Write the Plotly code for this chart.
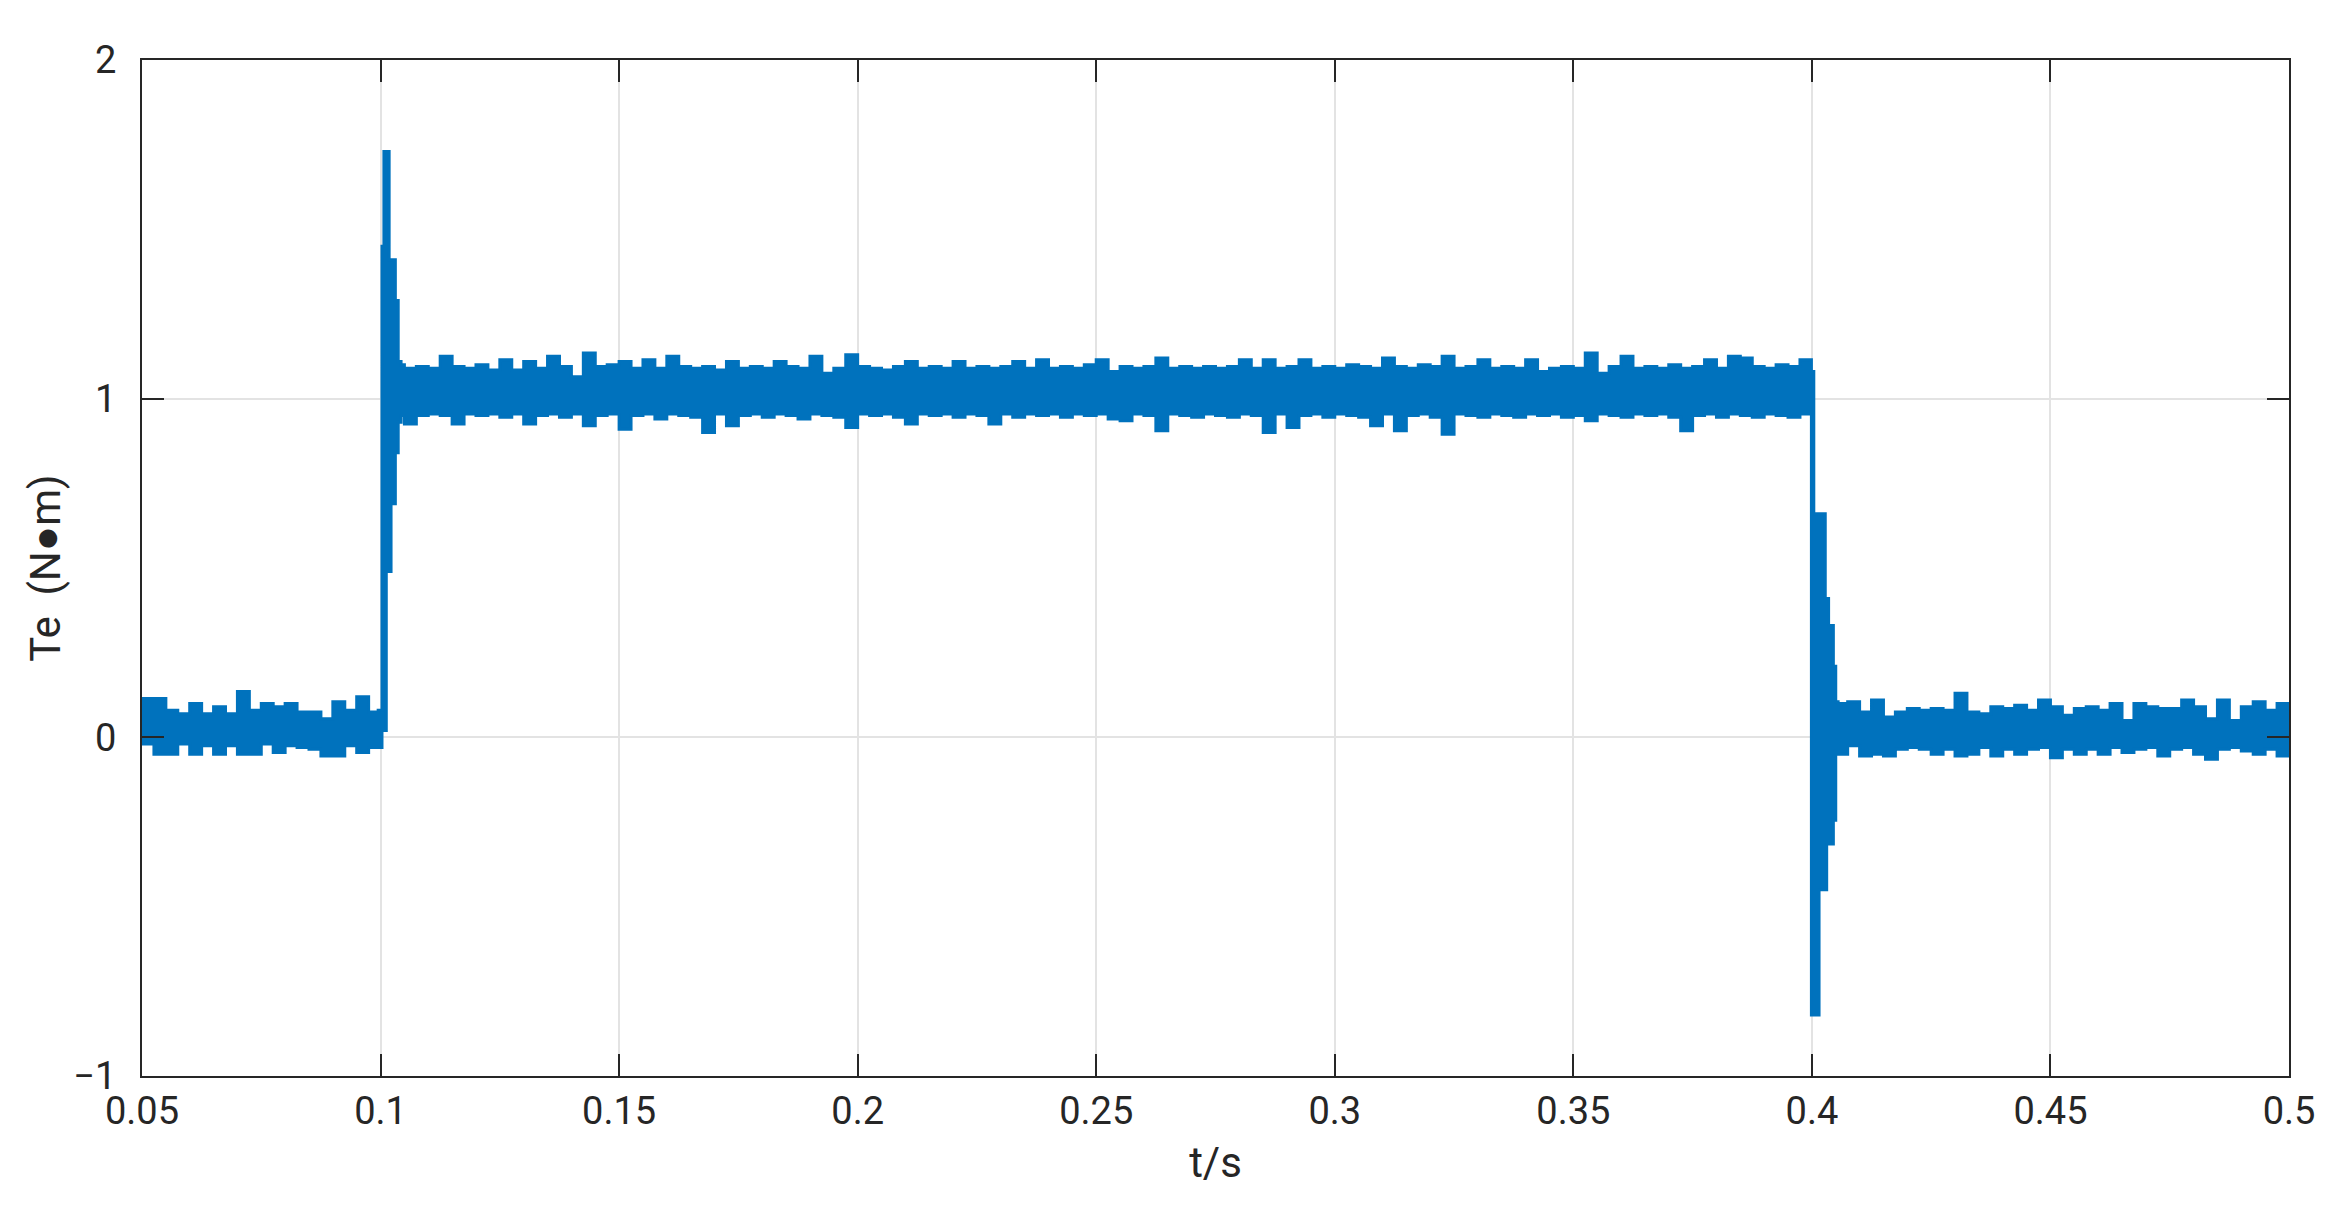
import numpy as np
import plotly.graph_objects as go

# sample times (s) of the read-off envelope, per segment
t_base1 = np.round(0.05 + 0.0025 * np.arange(20), 4)
t_rise = [0.0995, 0.1003, 0.1007, 0.1012, 0.1018, 0.1022, 0.1031, 0.1037, 0.1043]
t_plateau = np.round(0.105 + 0.0025 * np.arange(118), 4)
t_fall = [0.3999, 0.4004, 0.4015, 0.4028, 0.4031, 0.4035, 0.4045, 0.4050, 0.4055]
t_base2 = np.round(0.4075 + 0.0025 * np.arange(38), 4)

# upper / lower edge of the Te trace (N*m)
up_base1 = [0.115, 0.115, 0.08, 0.07, 0.10, 0.07, 0.09, 0.07, 0.135, 0.08,
            0.10, 0.09, 0.10, 0.075, 0.075, 0.055, 0.105, 0.08, 0.12, 0.075]
lo_base1 = [-0.02, -0.05, -0.05, -0.02, -0.05, -0.025, -0.05, -0.025, -0.05, -0.05,
            -0.02, -0.045, -0.025, -0.03, -0.035, -0.055, -0.055, -0.025, -0.045, -0.03]

up_rise = [0.08, 1.45, 1.73, 1.73, 1.41, 1.41, 1.29, 1.11, 1.10]
lo_rise = [-0.03, 0.02, 0.02, 0.49, 0.49, 0.69, 0.84, 0.93, 0.95]

up_plateau = [1.09, 1.095, 1.09, 1.125, 1.095, 1.09, 1.10, 1.085, 1.115, 1.085,
              1.11, 1.09, 1.125, 1.095, 1.065, 1.135, 1.095, 1.10, 1.11, 1.09,
              1.115, 1.09, 1.125, 1.095, 1.09, 1.095, 1.085, 1.11, 1.09, 1.095,
              1.09, 1.11, 1.095, 1.09, 1.125, 1.075, 1.09, 1.13, 1.095, 1.09,
              1.085, 1.095, 1.11, 1.09, 1.095, 1.09, 1.11, 1.09, 1.095, 1.09,
              1.095, 1.11, 1.09, 1.115, 1.09, 1.095, 1.09, 1.10, 1.115, 1.08,
              1.095, 1.09, 1.095, 1.12, 1.09, 1.095, 1.09, 1.095, 1.09, 1.095,
              1.115, 1.09, 1.115, 1.09, 1.095, 1.115, 1.09, 1.095, 1.09, 1.10,
              1.095, 1.09, 1.12, 1.095, 1.09, 1.10, 1.095, 1.125, 1.09, 1.095,
              1.115, 1.09, 1.095, 1.09, 1.115, 1.08, 1.09, 1.095, 1.09, 1.135,
              1.075, 1.095, 1.125, 1.09, 1.095, 1.09, 1.10, 1.09, 1.095, 1.115,
              1.09, 1.125, 1.12, 1.095, 1.09, 1.10, 1.095, 1.115]
lo_plateau = [0.925, 0.95, 0.955, 0.95, 0.925, 0.955, 0.95, 0.955, 0.945, 0.955,
              0.925, 0.95, 0.955, 0.945, 0.955, 0.92, 0.95, 0.955, 0.91, 0.95,
              0.955, 0.94, 0.955, 0.95, 0.945, 0.90, 0.955, 0.92, 0.95, 0.955,
              0.945, 0.955, 0.95, 0.94, 0.955, 0.95, 0.945, 0.915, 0.955, 0.95,
              0.955, 0.945, 0.925, 0.955, 0.95, 0.955, 0.945, 0.955, 0.95, 0.925,
              0.955, 0.945, 0.955, 0.95, 0.955, 0.945, 0.955, 0.95, 0.955, 0.94,
              0.935, 0.955, 0.95, 0.905, 0.955, 0.95, 0.945, 0.955, 0.95, 0.945,
              0.955, 0.95, 0.90, 0.955, 0.915, 0.95, 0.955, 0.945, 0.955, 0.95,
              0.945, 0.92, 0.955, 0.905, 0.95, 0.955, 0.945, 0.895, 0.955, 0.95,
              0.945, 0.955, 0.95, 0.945, 0.955, 0.95, 0.955, 0.945, 0.95, 0.935,
              0.955, 0.95, 0.945, 0.955, 0.95, 0.955, 0.945, 0.905, 0.95, 0.955,
              0.945, 0.955, 0.95, 0.945, 0.955, 0.95, 0.945, 0.955]

up_fall = [1.08, 0.66, 0.66, 0.41, 0.41, 0.33, 0.21, 0.105, 0.10]
lo_fall = [-0.82, -0.82, -0.45, -0.45, -0.315, -0.315, -0.245, -0.04, -0.05]

up_base2 = [0.105, 0.075, 0.11, 0.06, 0.075, 0.085, 0.08, 0.085, 0.08, 0.13,
            0.075, 0.07, 0.09, 0.085, 0.095, 0.08, 0.11, 0.09, 0.065, 0.085,
            0.09, 0.08, 0.10, 0.05, 0.10, 0.09, 0.085, 0.085, 0.11, 0.09,
            0.055, 0.11, 0.05, 0.09, 0.105, 0.08, 0.10, 0.08]
lo_base2 = [-0.025, -0.055, -0.05, -0.055, -0.035, -0.03, -0.035, -0.05, -0.035, -0.055,
            -0.05, -0.03, -0.055, -0.035, -0.05, -0.035, -0.03, -0.06, -0.035, -0.05,
            -0.035, -0.05, -0.03, -0.045, -0.035, -0.03, -0.055, -0.035, -0.03, -0.05,
            -0.065, -0.035, -0.03, -0.04, -0.05, -0.035, -0.055, -0.04]

t = np.concatenate([t_base1, t_rise, t_plateau, t_fall, t_base2])
te_up = np.concatenate([up_base1, up_rise, up_plateau, up_fall, up_base2])
te_lo = np.concatenate([lo_base1, lo_rise, lo_plateau, lo_fall, lo_base2])

blue = '#0072BD'
axis_col = '#262626'
font = 'Roboto, sans-serif'

fig = go.Figure()
fig.add_trace(go.Scatter(x=t, y=te_lo, mode='lines', line=dict(color=blue, width=3, shape='hv'),
                         showlegend=False, hoverinfo='skip'))
fig.add_trace(go.Scatter(x=t, y=te_up, mode='lines', line=dict(color=blue, width=3, shape='hv'),
                         fill='tonexty', fillcolor=blue, showlegend=False, hoverinfo='skip'))

axis_common = dict(showline=True, linecolor=axis_col, linewidth=2, mirror='ticks',
                   ticks='inside', ticklen=22, tickwidth=2, tickcolor=axis_col,
                   showgrid=True, gridcolor='#e3e3e3', gridwidth=2, zeroline=False,
                   tickfont=dict(family=font, size=38, color=axis_col))

fig.update_xaxes(range=[0.05, 0.5], dtick=0.05, tick0=0.05,
                 title=dict(text='t/s', font=dict(family=font, size=42, color=axis_col), standoff=16),
                 **axis_common)
fig.update_yaxes(range=[-1, 2], dtick=1, ticklabelstandoff=16,
                 title=dict(text='Te\u00a0\u00a0(N●m)', font=dict(family=font, size=42, color=axis_col), standoff=0),
                 **axis_common)

fig.update_layout(width=2331, height=1205, plot_bgcolor='white', paper_bgcolor='white',
                  margin=dict(l=134, r=50, t=52, b=137))

fig.write_html("out.html")
